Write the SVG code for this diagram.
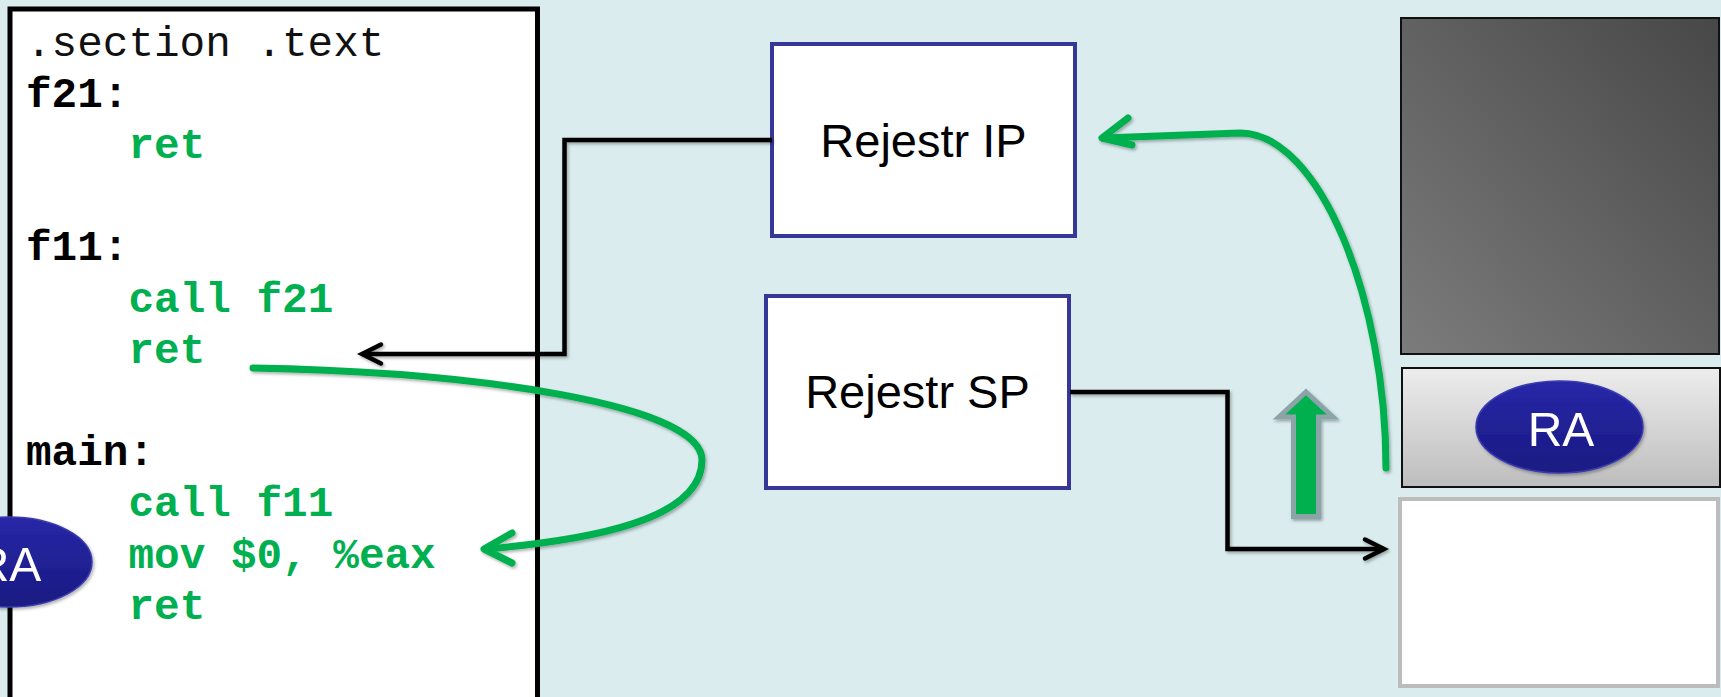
<svg xmlns="http://www.w3.org/2000/svg" width="1721" height="697" viewBox="0 0 1721 697">
  <defs>
    <style>
      .code { font-family: "Liberation Mono", "Courier New", monospace; font-size: 42.67px; }
      .lbl { font-weight: bold; fill: #000; }
      .ins { font-weight: bold; fill: #00B050; }
      .reg { fill: #fff; stroke: #373797; stroke-width: 4; }
      .regtxt { font-family: "Liberation Sans", Arial, sans-serif; font-size: 47px; fill: #000; text-anchor: middle; }
      .ra { fill: url(#raFill); stroke: #3a3ab0; stroke-width: 1.5; }
      .ratxt { font-family: "Liberation Sans", Arial, sans-serif; font-size: 48px; fill: #fff; text-anchor: middle; }
      .wire { fill: none; stroke: #000; stroke-width: 4.5; stroke-linejoin: miter; }
      .flow { fill: none; stroke: #00B050; stroke-width: 7; stroke-linecap: round; stroke-linejoin: round; }
    </style>
    <linearGradient id="raFill" x1="0" y1="0" x2="0" y2="1">
      <stop offset="0" stop-color="#2727a8"/>
      <stop offset="1" stop-color="#1a1a82"/>
    </linearGradient>
    <linearGradient id="darkFill" x1="0" y1="1" x2="1" y2="0">
      <stop offset="0" stop-color="#7c7c7c"/>
      <stop offset="1" stop-color="#474747"/>
    </linearGradient>
    <linearGradient id="slotFill" x1="0" y1="0" x2="0" y2="1">
      <stop offset="0" stop-color="#ededed"/>
      <stop offset="1" stop-color="#bdbdbd"/>
    </linearGradient>
    <filter id="shadow" x="-10%" y="-10%" width="130%" height="130%">
      <feDropShadow dx="1.5" dy="2" stdDeviation="1.5" flood-color="#000" flood-opacity="0.3"/>
    </filter>
  </defs>

  <!-- background -->
  <rect x="0" y="0" width="1721" height="697" fill="#DAECEE"/>

  <!-- assembly listing -->
  <g id="code">
    <rect x="10" y="9" width="527.5" height="700" fill="#fff" stroke="#000" stroke-width="5"/>
    <text class="code" x="26" y="56" fill="#111">.section .text</text>
    <text class="code lbl" x="26" y="107">f21:</text>
    <text class="code ins" x="128.5" y="158">ret</text>
    <text class="code lbl" x="26" y="260">f11:</text>
    <text class="code ins" x="128.5" y="312">call f21</text>
    <text class="code ins" x="128.5" y="363">ret</text>
    <text class="code lbl" x="26" y="465">main:</text>
    <text class="code ins" x="128.5" y="516">call f11</text>
    <text class="code ins" x="128.5" y="568">mov $0, %eax</text>
    <text class="code ins" x="128.5" y="619">ret</text>
  </g>

  <!-- return address token beside the listing -->
  <g id="ra-left" filter="url(#shadow)">
    <ellipse class="ra" cx="8.5" cy="562" rx="83.5" ry="45"/>
    <text class="ratxt" x="8" y="581">RA</text>
  </g>

  <!-- registers -->
  <g id="reg-ip">
    <rect class="reg" x="772" y="44" width="303" height="192"/>
    <text class="regtxt" x="923.5" y="157">Rejestr IP</text>
  </g>
  <g id="reg-sp">
    <rect class="reg" x="766" y="296" width="303" height="192"/>
    <text class="regtxt" x="917.5" y="408">Rejestr SP</text>
  </g>

  <!-- stack -->
  <g id="stack-used">
    <rect x="1401" y="18" width="318" height="336" fill="url(#darkFill)" stroke="#111" stroke-width="2"/>
  </g>
  <g id="stack-ra">
    <rect x="1402" y="368" width="318" height="119" fill="url(#slotFill)" stroke="#111" stroke-width="2"/>
    <g filter="url(#shadow)">
      <ellipse class="ra" cx="1559.5" cy="427" rx="83.5" ry="46"/>
      <text class="ratxt" x="1561" y="446">RA</text>
    </g>
  </g>
  <g id="stack-free">
    <rect x="1400" y="499" width="318" height="187" fill="#fff" stroke="#bcbcbc" stroke-width="4"/>
  </g>

  <!-- connectors -->
  <g id="connectors" filter="url(#shadow)">
    <!-- IP points into the listing -->
    <polyline class="wire" points="772,140 564.5,140 564.5,354 362,354"/>
    <polyline class="wire" points="381,344.5 362,354 381,363.5" stroke-linecap="round"/>
    <!-- SP points at the stack top -->
    <polyline class="wire" points="1070,392 1227.5,392 1227.5,549 1384,549"/>
    <polyline class="wire" points="1365,539.5 1384,549 1365,558.5" stroke-linecap="round"/>
    <!-- ret in f11 returns to main -->
    <path class="flow" d="M253,368 C480,372 702,405 702,460 C702,520 590,540 486,549"/>
    <polyline class="flow" points="512,533 484,549 512,563"/>
    <!-- popped return address goes back into IP -->
    <path class="flow" d="M1386,468 C1386,300 1320,133 1240,133 L1103,138"/>
    <polyline class="flow" points="1128,118 1102,138 1132,145"/>
    <!-- stack pointer moves up -->
    <polygon points="1306,392 1333,417 1318.5,417 1318.5,516.5 1293.5,516.5 1293.5,417 1279,417" fill="#00B050" stroke="#8aa4a8" stroke-width="5" stroke-linejoin="miter"/>
  </g>
</svg>
